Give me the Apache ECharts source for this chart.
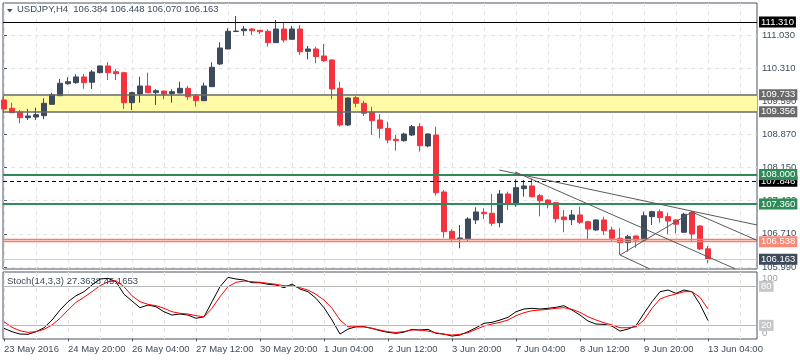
<!DOCTYPE html>
<html><head><meta charset="utf-8">
<script src="https://cdn.jsdelivr.net/npm/echarts@6/dist/echarts.min.js"></script>
<style>html,body{margin:0;padding:0;background:#fff}#c{width:800px;height:360px}</style>
</head><body><div id="c"></div>
<script>
// H4 candles: [open, high, low, close]
const ohlc = [
[109.618,109.705,109.329,109.422],[109.438,109.559,109.329,109.342],[109.351,109.401,109.112,109.234],[109.233,109.422,109.183,109.270],
[109.248,109.451,109.183,109.298],[109.277,109.655,109.199,109.546],[109.524,109.777,109.510,109.733],[109.711,110.074,109.705,109.981],
[109.972,110.111,109.950,110.015],[109.994,110.176,109.972,110.118],[110.118,110.183,109.863,109.994],[110.003,110.270,109.857,110.226],
[110.211,110.372,110.198,110.357],[110.357,110.437,110.052,110.211],[110.233,110.285,110.052,110.189],[110.211,110.233,109.422,109.559],
[109.559,109.798,109.401,109.777],[109.748,110.124,109.559,109.922],[109.922,110.211,109.763,109.777],[109.777,109.850,109.510,109.820],
[109.813,109.820,109.633,109.748],[109.755,109.850,109.559,109.798],[109.770,110.015,109.760,109.872],[109.872,109.922,109.618,109.690],
[109.705,109.748,109.473,109.603],[109.603,109.994,109.600,109.922],[109.907,110.437,109.900,110.328],[110.400,110.871,110.378,110.748],
[110.726,111.176,110.720,111.110],[111.105,111.443,111.100,111.115],[111.123,111.226,111.015,111.160],[111.160,111.176,111.030,111.123],
[111.132,111.139,111.052,111.100],[111.110,111.154,110.776,110.863],[110.863,111.356,110.860,111.160],[111.160,111.306,110.871,110.921],
[110.937,111.226,110.921,111.160],[111.160,111.247,110.596,110.667],[110.676,110.791,110.502,110.726],[110.726,110.776,110.415,110.559],
[110.574,110.834,110.443,110.472],[110.487,110.502,109.633,109.857],[109.872,110.015,109.038,109.075],[109.075,109.677,109.053,109.661],
[109.668,109.705,109.460,109.546],[109.546,109.603,109.270,109.329],[109.351,109.473,108.857,109.169],[109.183,109.313,108.786,109.003],
[109.003,109.146,108.677,108.749],[108.764,108.857,108.516,108.734],[108.734,108.907,108.712,108.879],[108.857,109.075,108.836,109.038],
[109.038,109.112,108.495,108.625],[108.619,108.894,108.590,108.879],[108.857,109.038,107.539,107.604],[107.619,107.663,106.626,106.757],
[106.765,106.809,106.526,106.592],[106.592,106.902,106.396,106.620],[106.605,107.070,106.555,107.033],[107.011,107.287,106.924,107.185],
[107.178,107.265,107.033,107.148],[107.156,107.576,106.880,106.939],[106.952,107.663,106.852,107.576],[107.576,107.626,107.228,107.352],
[107.343,107.895,107.300,107.713],[107.691,107.880,107.517,107.750],[107.750,107.917,107.504,107.517],[107.539,107.576,107.090,107.430],
[107.445,107.460,107.265,107.374],[107.387,107.402,106.952,107.039],[107.076,107.228,106.744,107.017],[107.017,107.228,106.902,107.120],
[107.120,107.300,106.924,106.961],[106.974,106.996,106.576,106.815],[106.794,107.026,106.772,107.011],[107.011,107.083,106.685,106.779],
[106.794,106.866,106.540,106.613],[106.613,106.830,106.250,106.518],[106.518,106.685,106.322,106.648],[106.663,106.670,106.409,106.576],
[106.576,107.191,106.540,107.104],[107.083,107.213,106.902,107.191],[107.191,107.243,106.952,107.061],[107.083,107.170,106.700,106.989],
[107.011,107.026,106.722,106.918],[106.744,107.170,106.735,107.135],[107.178,107.213,106.555,106.707],[106.880,106.902,106.359,106.381],
[106.384,106.448,106.070,106.163]
];
// Stochastic (14,3,3)
const stochK = [15.4,10.2,6.6,6.2,10.2,16.3,28.2,43.5,56.3,65.5,
71.7,82,91.2,92.3,87.1,67.7,57.4,47.1,51.2,48.6,
40.9,35.8,37.4,35.8,30.8,33.2,56.3,79.4,93.8,91.2,
89.7,85.5,85.5,83.1,82,77.8,83.5,75.8,71.7,61.5,
47.1,28.2,6.6,14.3,17.8,17.8,15.4,11.7,9.2,7.7,
9.5,13.8,12.8,13.8,7.7,6.6,3.5,5.1,10.2,16.3,
23.1,24.6,28.2,32.3,40.9,45.1,46.2,45.1,46.2,47.7,
50.2,43.5,35.8,26.6,22,21.5,18.9,11.2,14.3,19.4,
38.5,56.3,71.7,74.3,69.2,74.3,71.7,52.3,27.3638];
const stochD = [25.5,16.9,11.7,9.2,10.2,13.8,20.5,30.8,43.5,55.4,
63.1,71.7,80.9,87.1,88.6,79.4,65.5,56.3,52.3,50.2,
46.2,40.9,38.5,37.4,34.8,33.2,46.2,64,79.4,86.1,
88.1,87.1,86.1,84.6,83.1,80.9,80.9,77.8,74.3,67.7,
58.9,46.2,28.2,17.8,17.8,17.8,15.4,12.8,10.2,9.0,
10.5,12.8,12.8,11.2,8.6,6.2,5.1,6.2,8.6,13.8,
18.9,22,24.6,28.2,34.8,39.4,42.5,43.5,44.6,46.2,
47.1,44.6,40,33.2,28.2,24,20.5,16.3,16.3,17.8,
28.2,46.2,60.5,65.1,68.2,71.7,71.7,63.1,45.1653];

const priceTicks = [111.030,110.310,109.590,108.870,108.150,107.430,106.710,105.990];
const timeTickIdx = [0,8,16,24,32,40,48,56,64,72,80,88];
const timeTickLabels = ['23 May 2016','24 May 20:00','26 May 04:00','27 May 12:00','30 May 20:00','1 Jun 04:00','2 Jun 12:00','3 Jun 20:00','7 Jun 04:00','8 Jun 12:00','9 Jun 20:00','13 Jun 04:00'];
const gridIdx = [0,4,8,12,16,20,24,28,32,36,40,44,48,52,56,60,64,68,72,76,80,84,88,92];

const resistanceLevel = 111.310;
const yellowZone = [109.356, 109.733];
const greenLevels = [108.000, 107.360];
const dashedLevel = 107.846;
const salmonLevels = [106.600, 106.538];
const bidPrice = 106.163;
const stochLevels = [80, 20];
// trend lines: [[barIndex, price], [barIndex, price]]
const trendLines = [
  [[61.9,108.097],[94.125,106.902]],
  [[63.9,108.054],[91.4,105.95]],
  [[86,107.185],[94.125,106.569]],
  [[77,106.250],[80.7,105.95]],
  [[77,106.250],[86,107.185]]
];

const FONT = 'Liberation Sans';
const FS = 9.5;
const TXT = '#3e4c5c';
const BULL = '#3c4a5b', BEAR = '#f5333f';
const XMIN = -0.125, XMAX = 94.125;
const PMIN = 105.946, PMAX = 111.725;

function boxLabel(text, bg, fg) {
  return {show:true, position:'end', distance:2, formatter:text, color:fg||'#fff', backgroundColor:bg,
    padding:[1,2,0,2], fontSize:FS, fontFamily:FONT, lineHeight:10};
}
function hLine(v, color, width, type, label) {
  return {yAxis:v, lineStyle:{color:color, width:width, type:type||'solid', opacity:1}, label: label || {show:false}};
}

const chart = echarts.init(document.getElementById('c'), null, {renderer:'canvas'});
const option = {
  animation:false,
  backgroundColor:'#fff',
  textStyle:{fontFamily:FONT},
  title:[
    {text:'USDJPY,H4  106.384 106.448 106.070 106.163', left:17, top:4, padding:0,
     textStyle:{fontSize:FS, fontWeight:'normal', color:TXT, fontFamily:FONT}},
    {text:'Stoch(14,3,3) 27.3638 45.1653', left:7, top:276, padding:0, z:1,
     textStyle:{fontSize:FS, fontWeight:'normal', color:TXT, fontFamily:FONT}}
  ],
  graphic:[{type:'polygon', shape:{points:[[7,9],[12.5,9],[9.75,12.5]]}, style:{fill:TXT}}],
  grid:[
    {left:3, top:3, width:754, height:266, show:true, borderColor:'#4a5562', borderWidth:1, backgroundColor:'transparent'},
    {left:3, top:272, width:754, height:67, show:true, borderColor:'#4a5562', borderWidth:1, backgroundColor:'transparent'}
  ],
  xAxis:[
    {type:'value', gridIndex:0, min:XMIN, max:XMAX, position:'bottom',
     axisLine:{show:false}, axisTick:{show:false, customValues:gridIdx}, axisLabel:{show:false},
     splitLine:{show:true, lineStyle:{color:'#e4e4e4', type:[4,4]}}},
    {type:'value', gridIndex:1, min:XMIN, max:XMAX, position:'top',
     axisLine:{show:false}, axisTick:{show:false, customValues:gridIdx}, axisLabel:{show:false},
     splitLine:{show:true, lineStyle:{color:'#e4e4e4', type:[4,4]}}},
    {type:'value', gridIndex:1, min:XMIN, max:XMAX, position:'bottom',
     axisLine:{show:false},
     axisTick:{show:true, customValues:timeTickIdx, length:3, lineStyle:{color:'#4a5562'}},
     axisLabel:{customValues:timeTickIdx, align:'left', margin:5, fontSize:FS, color:TXT, fontFamily:FONT,
       formatter:function(v){ const k = timeTickIdx.indexOf(Math.round(v)); return k>=0 ? timeTickLabels[k] : ''; }},
     splitLine:{show:false}}
  ],
  yAxis:[
    {type:'value', gridIndex:0, position:'right', min:PMIN, max:PMAX,
     axisLine:{show:false},
     axisTick:{show:true, customValues:priceTicks, length:3, lineStyle:{color:'#4a5562'}},
     axisLabel:{customValues:priceTicks, margin:5, fontSize:FS, color:TXT, fontFamily:FONT,
       formatter:function(v){return v.toFixed(3);}},
     splitLine:{show:true, lineStyle:{color:'#e4e4e4', type:[4,4]}}},
    {type:'value', gridIndex:1, position:'right', min:-1, max:102,
     axisLine:{show:false}, axisTick:{show:false, customValues:[100]},
     axisLabel:{customValues:[100], margin:5, fontSize:FS, color:'#9aa0a6', verticalAlign:'top', fontFamily:FONT},
     splitLine:{show:false}},
    {type:'value', gridIndex:1, position:'right', min:-1, max:102,
     axisLine:{show:false}, axisTick:{show:false, customValues:[0]},
     axisLabel:{customValues:[0], margin:5, fontSize:FS, color:'#9aa0a6', verticalAlign:'bottom', fontFamily:FONT},
     splitLine:{show:false}}
  ],
  series:[
    {type:'line', xAxisIndex:0, yAxisIndex:0, data:[], z:1, silent:true,
     markArea:{silent:true, itemStyle:{color:'#fffba6'}, data:[[{yAxis:yellowZone[0]},{yAxis:yellowZone[1]}]]}},
    {type:'candlestick', xAxisIndex:0, yAxisIndex:0, z:2, barWidth:5,
     encode:{x:0, y:[1,2,3,4]},
     itemStyle:{color:BULL, color0:BEAR, borderColor:BULL, borderColor0:BEAR, borderWidth:1},
     data: ohlc.map(function(d,i){return [i, d[0], d[3], d[2], d[1]];})},
    {type:'line', xAxisIndex:0, yAxisIndex:0, data:[], z:3, silent:true,
     markLine:{silent:true, symbol:['none','none'], animation:false,
       data:[
         hLine(bidPrice, '#cfcfcf', 1, 'solid', boxLabel('106.163', '#3c4a5b')),
         hLine(salmonLevels[0], '#fa7b68', 1.3),
         hLine(salmonLevels[1], '#fa7b68', 1.3, 'solid', boxLabel('106.538', '#f88a78')),
         hLine(greenLevels[1], '#2e8b57', 2, 'solid', boxLabel('107.360', '#2e8b57')),
         hLine(dashedLevel, '#000', 1.2, [4,3], boxLabel('107.846', '#000')),
         hLine(greenLevels[0], '#2e8b57', 2, 'solid', boxLabel('108.000', '#2e8b57')),
         hLine(yellowZone[0], '#686868', 1.5, 'solid', boxLabel('109.356', '#6a6a6a')),
         hLine(yellowZone[1], '#686868', 1.5, 'solid', boxLabel('109.733', '#6a6a6a')),
         hLine(resistanceLevel, '#000', 1.2, 'solid', boxLabel('111.310', '#000'))
       ].concat(trendLines.map(function(t){
         return [{coord:t[0], lineStyle:{color:'#5a5a5a', width:1, type:'solid'}, label:{show:false}}, {coord:t[1]}];
       }))}},
    {type:'line', xAxisIndex:1, yAxisIndex:1, z:3, showSymbol:false, symbol:'none', silent:true,
     lineStyle:{color:'#000', width:1}, data: stochK.map(function(v,i){return [i,v];})},
    {type:'line', xAxisIndex:1, yAxisIndex:1, z:3, showSymbol:false, symbol:'none', silent:true,
     lineStyle:{color:'#ff0000', width:1}, data: stochD.map(function(v,i){return [i,v];}),
     markLine:{silent:true, symbol:['none','none'], animation:false,
       data: stochLevels.map(function(v){
         return {yAxis:v, lineStyle:{color:'#b8b8b8', width:1, type:'solid'},
           label:{show:true, position:'end', distance:2, formatter:String(v), color:'#fff', backgroundColor:'#c6c6c6',
             padding:[1,2,0,2], fontSize:FS, fontFamily:FONT, lineHeight:10}};
       })}}
  ]
};
chart.setOption(option);
</script>
</body></html>
